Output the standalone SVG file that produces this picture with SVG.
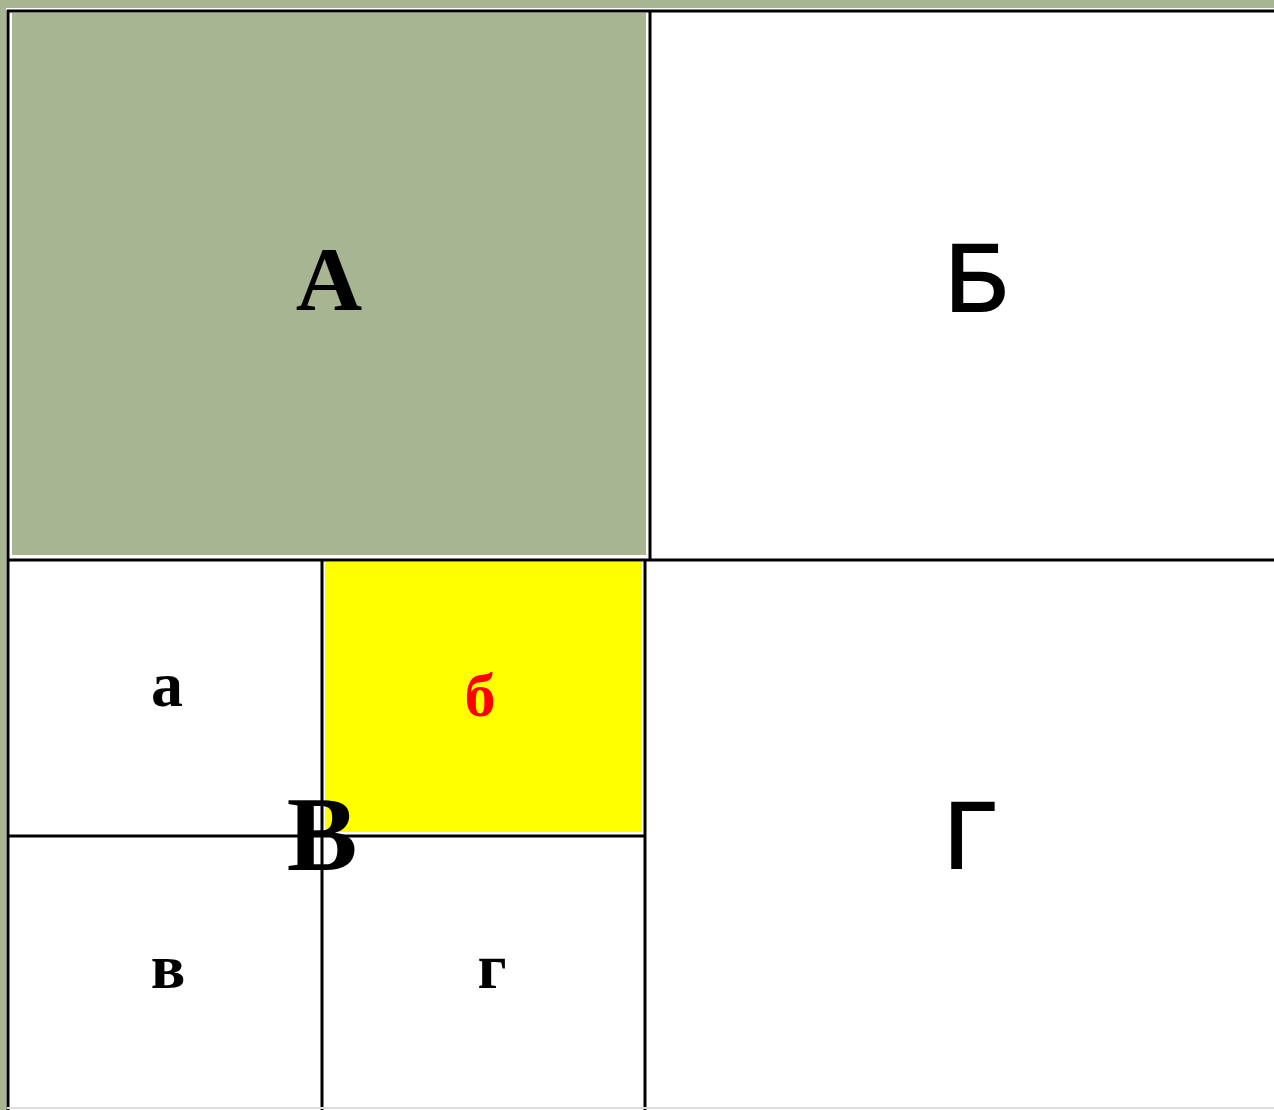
<svg xmlns="http://www.w3.org/2000/svg" width="1274" height="1110" viewBox="0 0 1274 1110">
<style>
.serif{font-family:"Liberation Serif","Times New Roman",serif;font-weight:bold;text-anchor:middle}
.sans{font-family:"Liberation Sans",Arial,sans-serif;text-anchor:middle;stroke:#000;stroke-width:2}
.ln{stroke:#000;fill:none}
</style>
<rect x="0" y="0" width="1274" height="1110" fill="#a7b592"/>
<rect x="6" y="8" width="1268" height="1102" fill="#fff"/>
<g id="cell-A">
<rect x="12" y="13" width="634" height="542" fill="#a7b592"/>
<text class="serif" x="329" y="310" font-size="92">А</text>
</g>
<g id="cell-B">
<text class="sans" x="977" y="311" font-size="97">Б</text>
</g>
<g id="cell-V">
<g id="sub-a"><text class="serif" x="167" y="706" font-size="64">а</text></g>
<g id="sub-b">
<rect x="325" y="562" width="317" height="270" fill="#ffff00"/>
<text class="serif" x="480" y="716" font-size="62" fill="#ff0000">б</text>
</g>
<g id="sub-v"><text class="serif" x="168" y="988" font-size="64">в</text></g>
<g id="sub-g"><text class="serif" x="492" y="988" font-size="64">г</text></g>
<text class="serif" x="322" y="870" font-size="106">В</text>
</g>
<g id="cell-G">
<text class="sans" x="970" y="868" font-size="94">Г</text>
</g>
<g id="grid">
<line class="ln" x1="7" y1="11" x2="1274" y2="11" stroke-width="3"/>
<line class="ln" x1="8" y1="10" x2="8" y2="1110" stroke-width="3"/>
<line class="ln" x1="650" y1="11" x2="650" y2="560" stroke-width="3"/>
<line class="ln" x1="7" y1="560" x2="1274" y2="560" stroke-width="3"/>
<line class="ln" x1="645" y1="559" x2="645" y2="1110" stroke-width="3"/>
<line class="ln" x1="322" y1="559" x2="322" y2="1110" stroke-width="3"/>
<line class="ln" x1="7" y1="836" x2="645" y2="836" stroke-width="3"/>
<line x1="7" y1="1108" x2="1274" y2="1108" stroke="#ddd" stroke-width="2"/>
</g>
</svg>
